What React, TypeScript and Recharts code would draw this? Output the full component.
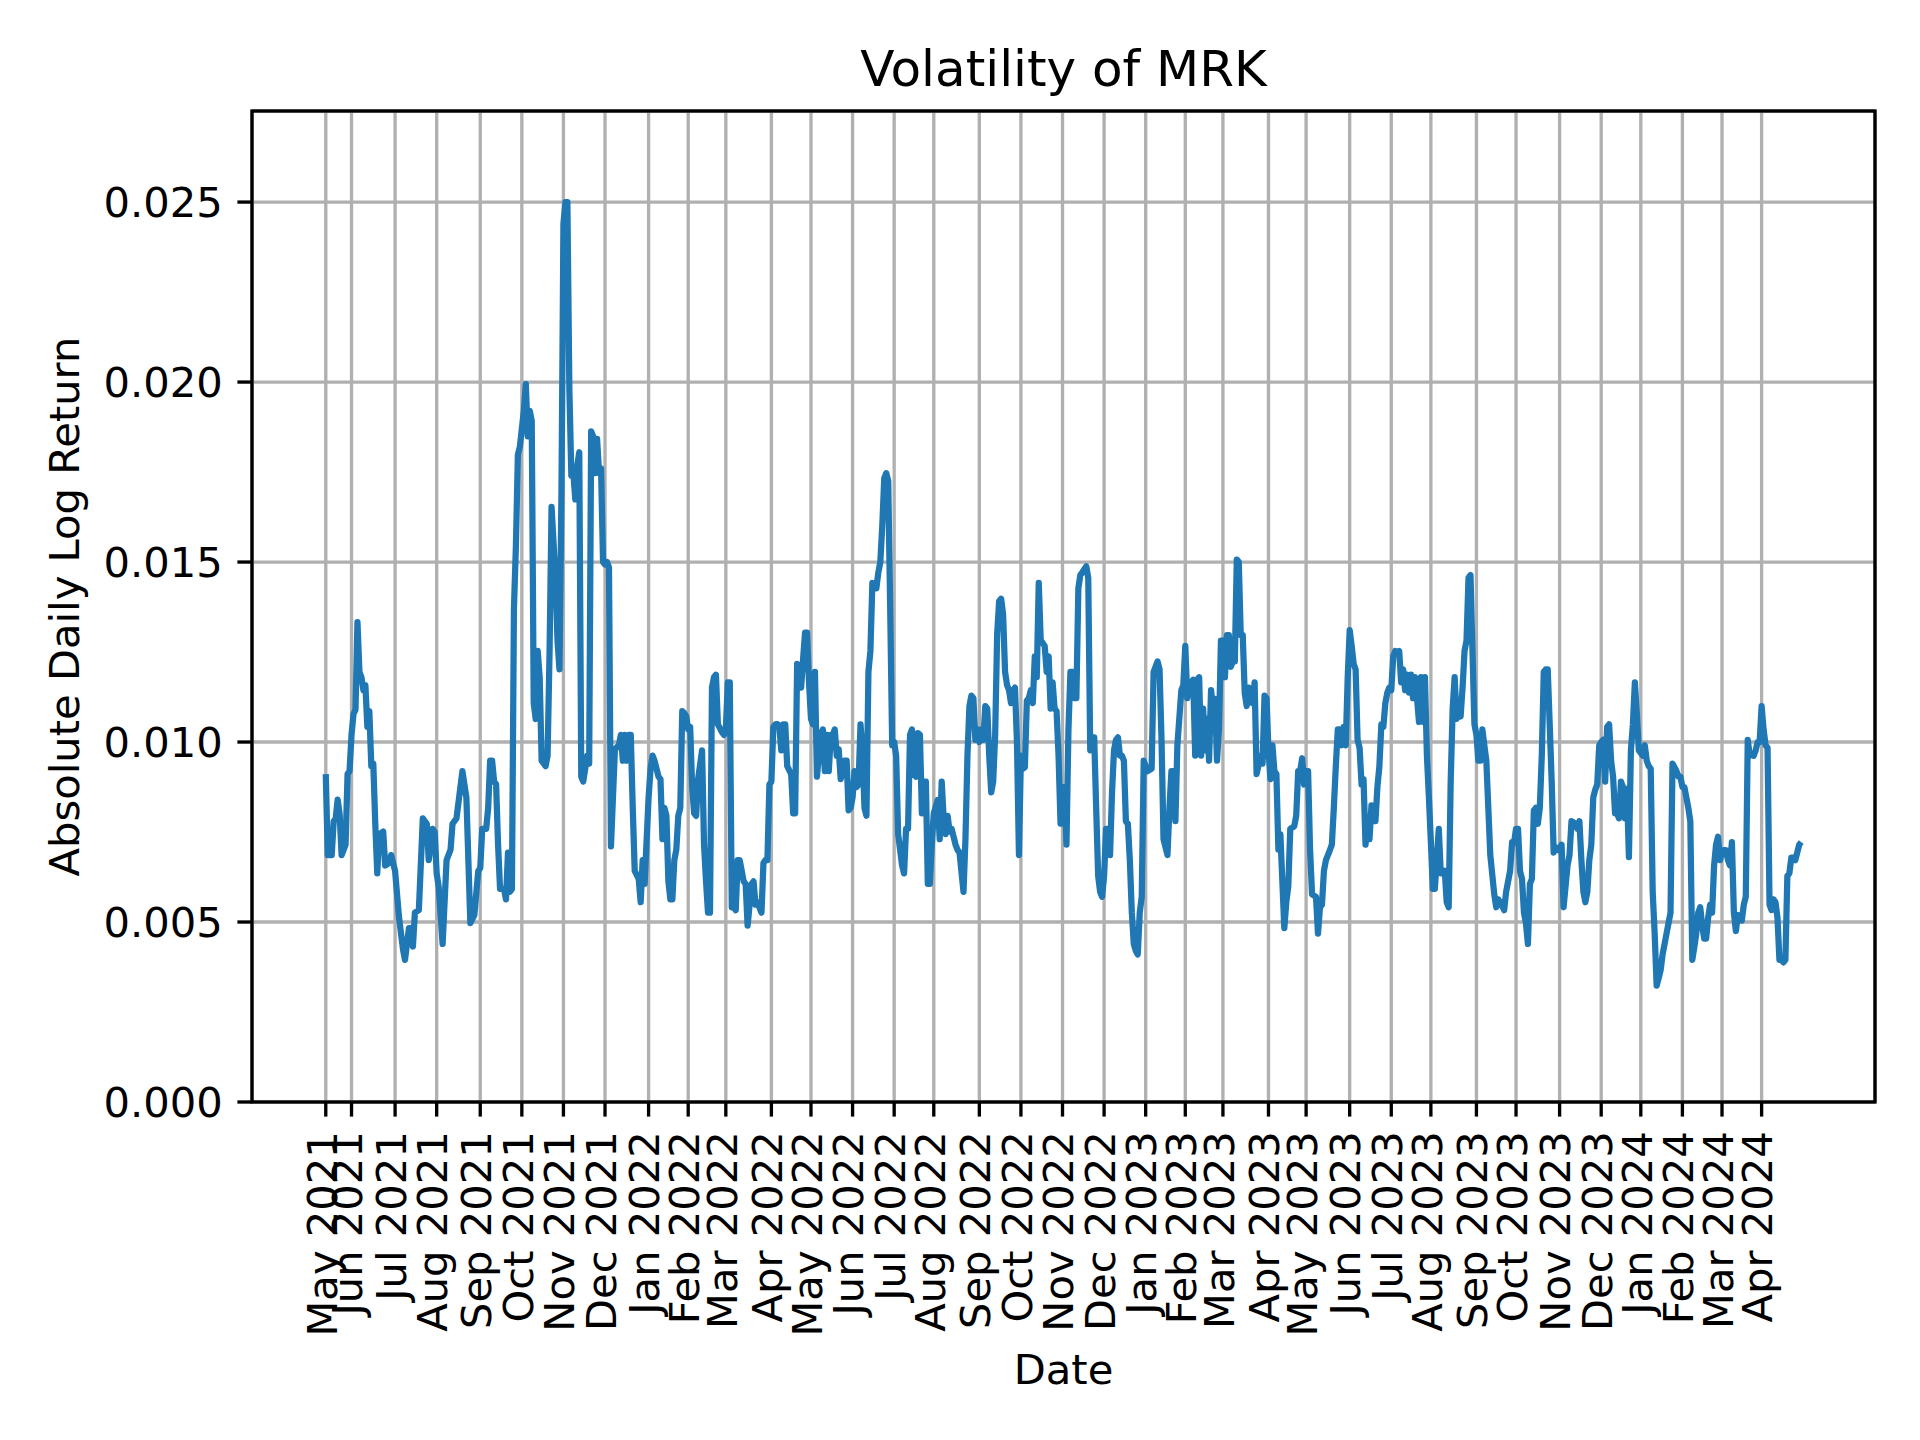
import React from 'react';
import { LineChart, Line, XAxis, YAxis, CartesianGrid } from 'recharts';

// x positions are trading-day numbers counted from the first observation (12 May 2021)
const monthTickDays = [
  0, 13, 35, 56, 78, 99, 120, 141,
  163, 183, 202, 225, 245, 266, 287, 307, 330, 351, 372, 393,
  414, 434, 453, 476, 495, 517, 538, 558, 581, 601, 623, 644,
  664, 685, 705, 725,
];
const monthTickLabels = [
  'May 2021', 'Jun 2021', 'Jul 2021', 'Aug 2021', 'Sep 2021', 'Oct 2021', 'Nov 2021', 'Dec 2021',
  'Jan 2022', 'Feb 2022', 'Mar 2022', 'Apr 2022', 'May 2022', 'Jun 2022', 'Jul 2022', 'Aug 2022',
  'Sep 2022', 'Oct 2022', 'Nov 2022', 'Dec 2022',
  'Jan 2023', 'Feb 2023', 'Mar 2023', 'Apr 2023', 'May 2023', 'Jun 2023', 'Jul 2023', 'Aug 2023',
  'Sep 2023', 'Oct 2023', 'Nov 2023', 'Dec 2023',
  'Jan 2024', 'Feb 2024', 'Mar 2024', 'Apr 2024',
];
const yTicks = [0, 0.005, 0.01, 0.015, 0.02, 0.025];

// [trading day, absolute daily log return]
const vol2021: [number, number][] = [
  [0, .00911], [1, .00686], [3, .00686], [4, .0078], [5, .00788], [6, .0084], [7, .008], [8, .00686],
  [10, .00715], [11, .00911], [12, .00919], [13, .0102], [14, .01078], [15, .0109], [16, .01333],
  [17, .01195], [18, .0118], [19, .01144], [20, .01158], [21, .01042], [22, .01086], [23, .00933],
  [24, .0094], [25, .00773], [26, .00635], [27, .00744], [29, .00751], [30, .00657], [32, .00664],
  [33, .00686], [35, .00642], [37, .00512], [39, .00424], [40, .00395], [42, .00483], [43, .00483],
  [44, .00432], [45, .00526], [47, .00533], [49, .00788], [51, .00773], [52, .00672], [54, .00759],
  [55, .0075], [56, .00635], [57, .00599], [59, .00439], [61, .00672], [63, .00701], [64, .00773],
  [66, .00788], [69, .00919], [71, .00846], [73, .00497], [75, .00519], [77, .00642], [78, .0065],
  [79, .00759], [81, .00759], [82, .00817], [83, .00948], [84, .00948], [85, .0089], [86, .00883],
  [87, .00715], [88, .00592], [90, .00592], [91, .00563], [92, .00693], [93, .00584], [94, .00592],
  [95, .01369], [96, .01544], [97, .01798], [98, .0182], [100, .0192], [101, .01994], [102, .01849],
  [103, .0192], [104, .01892], [105, .01108], [106, .01064], [107, .01253], [108, .0118], [109, .00948],
  [111, .00933], [112, .00962], [113, .01253], [114, .01653], [116, .01456], [117, .01282], [118, .01202],
  [119, .01689], [120, .0244], [121, .025], [122, .025], [123, .0198], [124, .0174], [125, .01747],
  [126, .01674], [127, .01769], [128, .01805], [129, .00904], [130, .0089], [132, .00962], [133, .0094],
  [134, .01863], [135, .01849], [136, .01747], [137, .01842], [138, .01747], [139, .0176], [140, .015],
  [141, .01493], [142, .015], [143, .01485], [144, .0071], [146, .0098], [148, .00991], [149, .0102],
  [150, .00948], [151, .0102], [152, .00948], [153, .0102], [154, .0102], [155, .00817], [156, .00642],
  [158, .0062], [159, .00555], [160, .00672], [161, .00606],
];

const vol2022: [number, number][] = [
  [163, .00846], [164, .00926], [165, .00962], [166, .00948], [168, .00904], [169, .00897], [170, .0073],
  [171, .00817], [172, .00795], [173, .00613], [174, .00563], [175, .00563], [176, .00672], [177, .00701],
  [178, .00795], [179, .00817], [180, .01086], [181, .0108], [182, .01071], [183, .01035], [184, .01042],
  [185, .00875], [186, .00802], [187, .00795], [188, .00897], [190, .00977], [191, .00715], [192, .00613],
  [193, .00526], [194, .00526], [195, .01151], [196, .0118], [197, .01187], [198, .01049], [200, .01028],
  [201, .0102], [202, .01035], [203, .01166], [204, .01166], [205, .00541], [206, .00541], [207, .00533],
  [208, .00672], [209, .00672], [211, .00613], [212, .00606], [213, .0049], [215, .00606], [216, .00613],
  [217, .00548], [218, .00555], [219, .0054], [220, .00526], [221, .00664], [222, .00672], [223, .00672],
  [224, .00882], [225, .0089], [226, .01042], [227, .01049], [228, .0105], [229, .01045], [230, .00977],
  [231, .01049], [232, .01049], [233, .00933], [235, .00911], [236, .00802], [237, .00802], [238, .01217],
  [239, .01209], [240, .01151], [241, .0123], [242, .01304], [243, .01304], [244, .01166], [245, .01064],
  [246, .01049], [247, .01195], [248, .00904], [249, .00962], [250, .0102], [251, .01035], [252, .00919],
  [253, .0102], [254, .00919], [255, .0102], [256, .0102], [257, .01035], [258, .00962], [259, .0098],
  [260, .00897], [262, .00948], [263, .00948], [264, .0081], [265, .00817], [266, .00846], [267, .00919],
  [268, .00875], [269, .00882], [270, .01049], [271, .00977], [272, .00817], [273, .00795], [274, .01195],
  [275, .01253], [276, .01442], [277, .01427], [278, .01427], [279, .01471], [280, .015], [281, .01602],
  [282, .01733], [283, .01747], [284, .01725], [285, .01369], [286, .00991], [287, .01], [288, .00962],
  [289, .00744], [291, .00657], [292, .00635], [293, .00759], [294, .00759], [295, .0102], [296, .01035],
  [297, .0091], [298, .00904], [299, .01025], [300, .0102], [301, .00802], [302, .0089], [303, .0089],
  [304, .00606], [305, .00606], [306, .00715], [307, .00802], [309, .00839], [310, .0073], [311, .0089],
  [312, .00788], [313, .00744], [314, .00795], [315, .00751], [316, .00759], [317, .00737], [318, .00715],
  [319, .007], [320, .00693], [322, .00584], [323, .0073], [324, .00962], [325, .011], [326, .01129],
  [327, .01122], [328, .01006], [329, .01035], [330, .01], [331, .01035], [332, .01006], [333, .011],
  [334, .01093], [335, .00962], [336, .0086], [337, .0089], [338, .0102], [339, .013], [340, .01391],
  [341, .01398], [342, .01355], [343, .01195], [344, .01158], [345, .01144], [346, .01108], [347, .01144],
  [348, .01151], [349, .01], [350, .00686], [351, .00962], [352, .00926], [353, .0093], [354, .01115],
  [355, .01122], [356, .01144], [357, .01108], [358, .01238], [359, .0118], [360, .01442], [361, .01282],
  [362, .01275], [363, .01267], [364, .01195], [365, .01238], [366, .01093], [367, .01166], [368, .01093],
  [369, .01086], [370, .00962], [371, .00773], [372, .00875], [373, .00875], [374, .00715], [375, .01035],
  [376, .01195], [377, .01195], [378, .01122], [379, .01122], [380, .01427], [381, .01464], [382, .01471],
  [383, .0148], [384, .01488], [385, .01456], [386, .00977], [387, .01013], [388, .01013], [389, .00817],
  [390, .00628], [391, .00584], [392, .0057], [393, .00628], [394, .00759], [395, .00759], [396, .00686],
  [397, .0086], [398, .00977], [399, .01006], [400, .01013], [401, .00962], [402, .00962], [403, .00948],
  [404, .0078], [405, .00773], [406, .00672], [407, .00526], [408, .00439], [409, .0042], [410, .0041],
  [411, .00526], [412, .0057], [413, .00948],
];

const vol2023: [number, number][] = [
  [414, .00933], [415, .00919], [417, .00926], [418, .01195], [420, .01224], [421, .01202], [422, .01006],
  [423, .0073], [425, .00686], [426, .00817], [427, .00919], [428, .00919], [429, .0078], [430, .00991],
  [432, .01144], [433, .01158], [434, .01267], [435, .01122], [436, .01166], [437, .01166], [438, .01173],
  [439, .00962], [440, .01173], [441, .0118], [442, .00962], [443, .01093], [444, .00977], [445, .01064],
  [446, .00948], [447, .01144], [448, .01093], [449, .0112], [450, .00948], [451, .01035], [452, .01282],
  [453, .01282], [454, .0118], [455, .01297], [456, .01297], [457, .01209], [458, .01224], [459, .01224],
  [460, .01507], [461, .015], [462, .01297], [463, .01297], [464, .01137], [465, .011], [466, .01151],
  [467, .01144], [468, .01108], [469, .01166], [470, .00911], [472, .00962], [473, .0094], [474, .01129],
  [475, .01122], [476, .00977], [477, .00897], [478, .00991], [479, .00919], [480, .00911], [481, .00701],
  [482, .00744], [484, .00483], [485, .00555], [486, .00599], [487, .00759], [489, .00766], [490, .00795],
  [491, .00919], [492, .00919], [493, .00955], [494, .00882], [495, .00919], [496, .00919], [497, .00701],
  [498, .00577], [500, .0057], [501, .00468], [502, .00541], [503, .00548], [504, .00642], [505, .00672],
  [507, .007], [508, .00715], [509, .00817], [510, .00933], [511, .01035], [512, .01035], [513, .00991],
  [514, .01042], [515, .00991], [516, .0118], [517, .01311], [518, .01267], [519, .01217], [520, .01202],
  [521, .01006], [522, .00984], [523, .00882], [524, .00897], [525, .00715], [526, .0078], [527, .0073],
  [528, .00824], [529, .00817], [530, .0078], [531, .00875], [532, .00933], [533, .01049], [534, .01042],
  [535, .01108], [536, .01137], [537, .01151], [538, .01144], [539, .01238], [540, .01253], [541, .01245],
  [542, .01253], [543, .01166], [544, .01202], [545, .01144], [546, .01187], [547, .01137], [548, .01187],
  [549, .01122], [550, .0118], [551, .01122], [552, .01056], [553, .0118], [554, .01056], [555, .0118],
  [556, .00962], [557, .00846], [558, .00722], [559, .00592], [560, .00592], [562, .00759], [563, .00635],
  [564, .00635], [565, .00642], [566, .00555], [567, .00541], [568, .0089], [569, .01093], [570, .0118],
  [571, .01064], [572, .01093], [573, .01071], [574, .01151], [575, .01253], [576, .01282], [577, .01456],
  [578, .01464], [579, .01253], [580, .01049], [581, .0102], [582, .00948], [583, .00948], [584, .01035],
  [585, .00991], [586, .00948], [587, .00817], [588, .00686], [590, .00577], [591, .00541], [592, .00563],
  [593, .00555], [595, .00533], [596, .00584], [597, .00613], [598, .00642], [599, .00722], [600, .0072],
  [601, .00759], [602, .00759], [603, .00642], [604, .0062], [605, .00526], [606, .00497], [607, .00439],
  [608, .00606], [609, .0062], [610, .0081], [611, .00817], [612, .00773], [613, .00817], [614, .00962],
  [615, .01195], [616, .01202], [617, .01202], [618, .01049], [619, .0089], [620, .00693], [621, .00708],
  [622, .007], [623, .007], [624, .00715], [625, .00541], [626, .00599], [627, .00657], [628, .00686],
  [629, .0078], [631, .00773], [632, .00759], [633, .0078], [634, .00672], [635, .00584], [636, .00555],
  [637, .00584], [638, .00672], [639, .00715], [640, .00846], [641, .00868], [642, .00882], [643, .00991],
  [644, .01], [645, .01006], [646, .0089], [647, .01042], [648, .01049], [649, .00948], [650, .00904],
  [651, .00802], [652, .00802], [653, .00788], [654, .0089], [655, .00875], [656, .00788], [657, .0087],
  [658, .0068], [659, .00977], [660, .01049], [661, .01166], [662, .01078], [663, .00977],
];

const vol2024: [number, number][] = [
  [665, .00962], [666, .00991], [667, .00948], [668, .00933], [669, .00926], [670, .00584], [671, .00468],
  [672, .00323], [673, .00344], [674, .00366], [675, .0041], [676, .00439], [677, .00468], [678, .00497],
  [679, .00526], [680, .0094], [681, .0093], [682, .00919], [683, .00904], [684, .00904], [685, .00875],
  [686, .00875], [687, .00846], [688, .00817], [689, .0078], [690, .00395], [691, .0043], [692, .00468],
  [693, .00526], [694, .00541], [695, .0049], [696, .00454], [697, .00454], [698, .00512], [699, .00548],
  [700, .00526], [701, .00657], [702, .00715], [703, .00737], [704, .00672], [705, .00693], [706, .007],
  [707, .007], [708, .00672], [709, .00657], [710, .00722], [711, .00526], [712, .00475], [713, .00519],
  [714, .00512], [715, .00504], [716, .00548], [717, .0057], [718, .01006], [719, .00962], [720, .00969],
  [721, .00962], [722, .00977], [723, .01], [724, .01], [725, .011], [726, .01035], [727, .00991],
  [728, .00984], [729, .00548], [730, .00533], [731, .00563], [732, .00555], [733, .00512], [734, .00395],
  [735, .00395], [736, .00388], [737, .00395], [738, .00628], [739, .00635], [740, .00679], [741, .00679],
  [742, .00672], [743, .00693], [744, .00715], [745, .00722],
];

const rows = [...vol2021, ...vol2022, ...vol2023, ...vol2024].map(([day, vol]) => ({ day, vol }));

const FONT = '"DejaVu Sans", sans-serif';
const FS = 41.67;

// plot box (matplotlib axes) in page pixels
const PLOT = { left: 252, top: 111, right: 1875, bottom: 1102 };

const XTick = ({ x, payload }: any) => {
  const i = monthTickDays.indexOf(payload.value);
  return (
    <text
      transform={`translate(${x + 10.8},${PLOT.bottom + 29.2}) rotate(-90)`}
      textAnchor="end"
      fontSize={FS}
      fontFamily={FONT}
      fill="#000"
    >
      {monthTickLabels[i]}
    </text>
  );
};

const YTick = ({ y, payload }: any) => (
  <text x={PLOT.left - 29.2} y={y} dy={15.2} textAnchor="end" fontSize={FS} fontFamily={FONT} fill="#000">
    {Number(payload.value).toFixed(3)}
  </text>
);

export default function App() {
  return (
    <div style={{ position: 'absolute', left: 0, top: 0, width: 1920, height: 1440, background: '#fff' }}>
      <LineChart
        width={1920}
        height={1440}
        data={rows}
        margin={{ top: PLOT.top, right: 1920 - PLOT.right, bottom: 38, left: 102 }}
      >
        <CartesianGrid stroke="#b0b0b0" strokeWidth={3.33} />
        <XAxis
          dataKey="day"
          type="number"
          domain={[-37.25, 782.25]}
          ticks={monthTickDays}
          interval={0}
          allowDataOverflow
          height={300}
          axisLine={false}
          tickSize={14.6}
          tickLine={{ stroke: '#000', strokeWidth: 3.33 }}
          tick={<XTick />}
        />
        <YAxis
          type="number"
          domain={[0, 0.02753]}
          ticks={yTicks}
          interval={0}
          allowDataOverflow
          width={150}
          axisLine={false}
          tickSize={14.6}
          tickLine={{ stroke: '#000', strokeWidth: 3.33 }}
          tick={<YTick />}
        />
        <Line
          type="linear"
          dataKey="vol"
          stroke="#1f77b4"
          strokeWidth={6.25}
          strokeLinejoin="round"
          dot={false}
          activeDot={false}
          isAnimationActive={false}
        />
      </LineChart>
      <svg
        width={1920}
        height={1440}
        style={{ position: 'absolute', left: 0, top: 0, pointerEvents: 'none' }}
      >
        <rect
          x={PLOT.left}
          y={PLOT.top}
          width={PLOT.right - PLOT.left}
          height={PLOT.bottom - PLOT.top}
          fill="none"
          stroke="#000"
          strokeWidth={3.33}
        />
        <text x={(PLOT.left + PLOT.right) / 2} y={86} textAnchor="middle" fontSize={50} fontFamily={FONT} fill="#000">
          Volatility of MRK
        </text>
        <text x={(PLOT.left + PLOT.right) / 2} y={1384} textAnchor="middle" fontSize={FS} fontFamily={FONT} fill="#000">
          Date
        </text>
        <text
          transform={`translate(78.5,${(PLOT.top + PLOT.bottom) / 2}) rotate(-90)`}
          textAnchor="middle"
          fontSize={FS}
          fontFamily={FONT}
          fill="#000"
        >
          Absolute Daily Log Return
        </text>
      </svg>
    </div>
  );
}
